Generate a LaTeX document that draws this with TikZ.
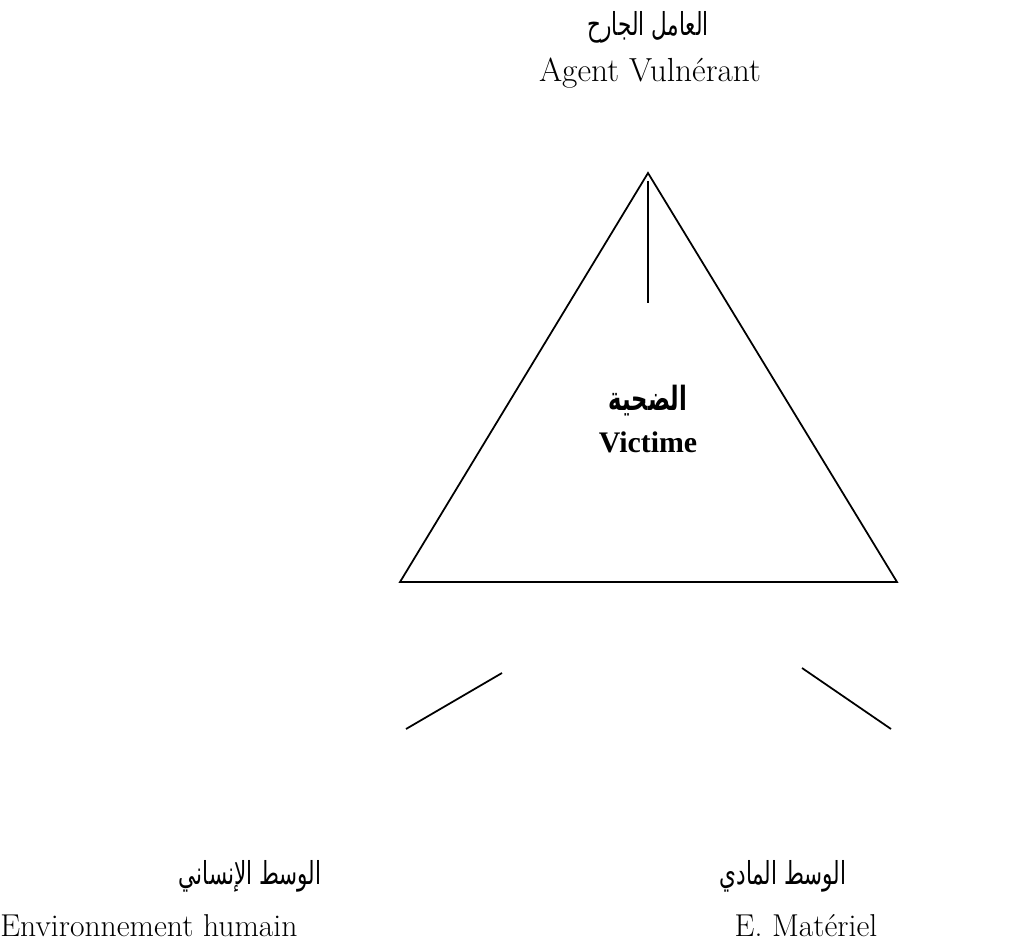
\documentclass[tikz,border=0pt]{standalone}
\usepackage{fontspec}
\newfontfamily\arabicfont[Script=Arabic, FakeStretch=0.68]{DejaVu Sans}
\newfontfamily\timesfont{Liberation Serif}
\TeXXeTstate=1
\usetikzlibrary{positioning}
\tikzset{
	arlabel/.style={font=\fontsize{18}{22}\selectfont\arabicfont, inner sep=0pt, anchor=base},
	frlabel/.style={font=\fontsize{18}{22}\selectfont, inner sep=0pt, anchor=base},
	edge/.style={draw=black, line width=1pt}
}

\begin{document}
\begin{tikzpicture}[x=0.02cm, y=-0.02cm]
	\useasboundingbox (0,0) rectangle (1010,949);
	
	% Triangle
	\coordinate (apex) at (648,173);
	\coordinate (bl) at (400,582);
	\coordinate (br) at (897,582);
	\draw[edge, line join=miter] (apex) -- (br) -- (bl) -- cycle;
	
	% top
	\node[arlabel] (agentar) at (648,36) {\beginR العامل الجارح\endR};
	\node[frlabel, font=\fontsize{19}{23}\selectfont] (agent) at (650,82) {Agent Vulnérant};
	\coordinate (stemtop) at (648,181);
	\coordinate (stembot) at (648,303);
	\draw[edge] (stemtop) -- (stembot);
	
	% centre
	\node[arlabel, font=\fontsize{19}{23}\selectfont\arabicfont\bfseries] (victimar) at (648,410) {\beginR الضحية\endR};
	\node[frlabel, font=\fontsize{17}{21}\selectfont\timesfont\bfseries] (victim) at (648,452) {Victime};
	
	% bottom left
	\coordinate (hlup) at (502,673);
	\coordinate (hllow) at (406,729);
	\draw[edge] (hlup) -- (hllow);
	\node[arlabel] (humanar) at (250,884) {\beginR الوسط الإنساني\endR};
	\node[frlabel, anchor=base west] (human) at (0,936) {Environnement humain};
	
	% bottom right
	\coordinate (mtup) at (802,668);
	\coordinate (mtlow) at (891,729);
	\draw[edge] (mtup) -- (mtlow);
	\node[arlabel] (matar) at (783,884) {\beginR الوسط المادي\endR};
	\node[frlabel] (mat) at (806,936) {E. Matériel};
\end{tikzpicture}
\end{document}
